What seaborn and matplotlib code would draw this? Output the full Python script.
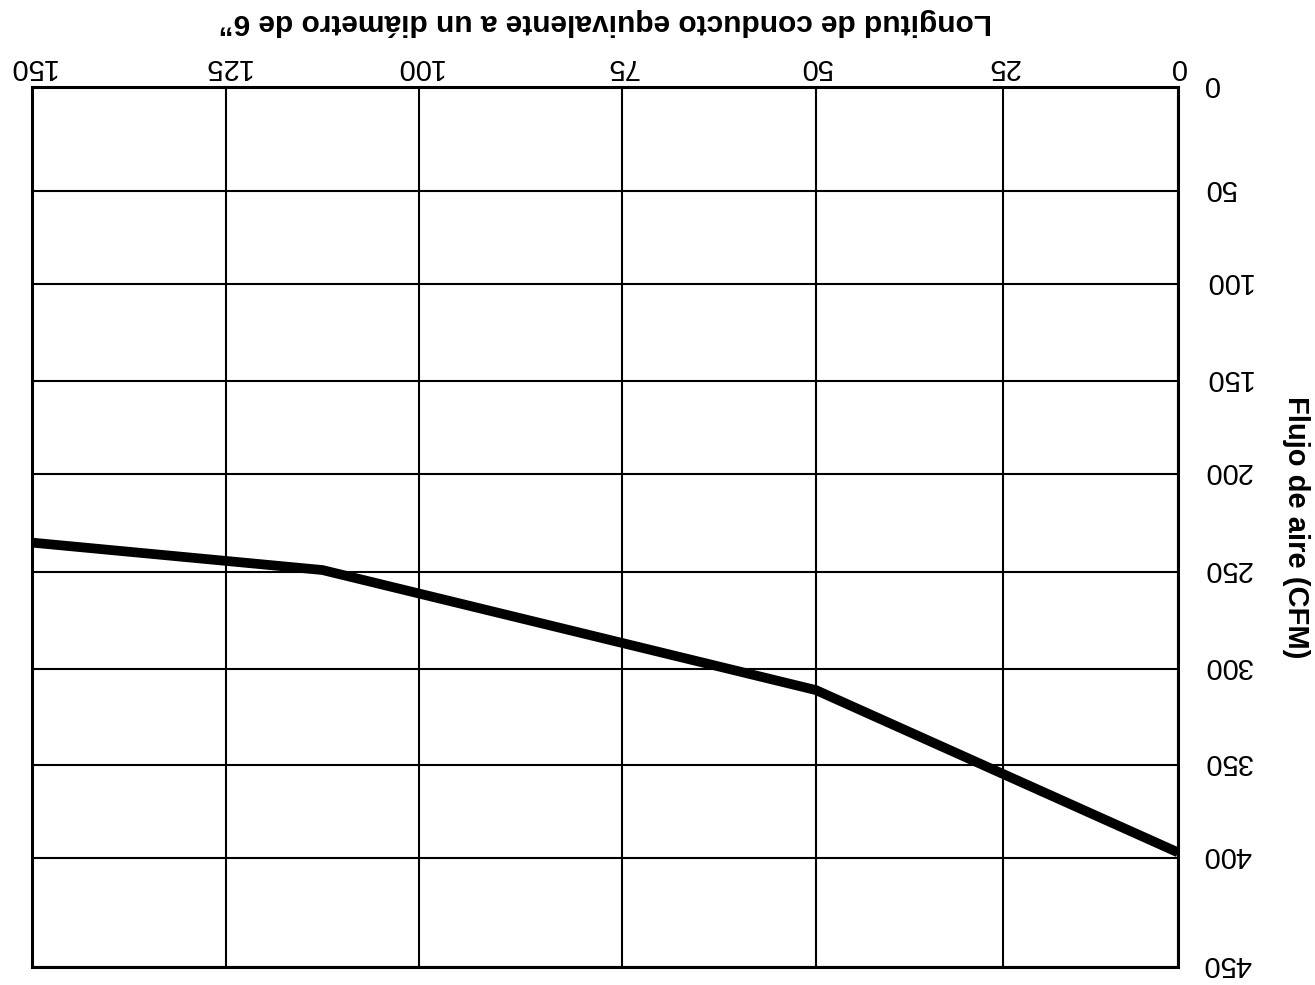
import numpy as np
import pandas as pd
import matplotlib
matplotlib.use("Agg")
import matplotlib.pyplot as plt
import seaborn as sns

# Curve data: equivalent duct length (6" diameter) vs. airflow
duct_length = [0, 50, 112.5, 150]
airflow_cfm = [397, 311, 249, 235]

x_ticks = [0, 25, 50, 75, 100, 125, 150]
y_ticks = [0, 50, 100, 150, 200, 250, 300, 350, 400, 450]

x_label = "Longitud de conducto equivalente a un diámetro de 6”"
y_label = "Flujo de aire (CFM)"

# Hand-ruled grid: relative spacing of the printed grid lines
x_grid_spacing = [0, 175, 362, 556, 759, 952, 1146]
y_grid_spacing = [0, 104, 197, 294, 387, 485, 582, 678, 771, 880]


def warp(vals, pos):
    vals = np.asarray(vals, float)
    pos = np.asarray(pos, float)
    s0 = (pos[1] - pos[0]) / (vals[1] - vals[0])
    s1 = (pos[-1] - pos[-2]) / (vals[-1] - vals[-2])

    def fwd(v):
        v = np.asarray(v, float)
        out = np.interp(v, vals, pos)
        out = np.where(v < vals[0], pos[0] + (v - vals[0]) * s0, out)
        out = np.where(v > vals[-1], pos[-1] + (v - vals[-1]) * s1, out)
        return out

    def inv(p):
        p = np.asarray(p, float)
        out = np.interp(p, pos, vals)
        out = np.where(p < pos[0], vals[0] + (p - pos[0]) / s0, out)
        out = np.where(p > pos[-1], vals[-1] + (p - pos[-1]) / s1, out)
        return out

    return fwd, inv


sns.set_theme(style="white")
plt.rcParams["font.family"] = ["Liberation Sans", "DejaVu Sans"]
plt.rcParams["text.color"] = "black"
plt.rcParams["axes.labelcolor"] = "black"

fig = plt.figure(figsize=(13.15, 9.85), dpi=100)
ax = fig.add_axes([32 / 1315, 1 - 967 / 985, (1178 - 32) / 1315, (967 - 87) / 985])

df = pd.DataFrame({"len": duct_length, "cfm": airflow_cfm})

ax.set_xscale("function", functions=warp(x_ticks, x_grid_spacing))
ax.set_yscale("function", functions=warp(y_ticks, y_grid_spacing))

sns.lineplot(data=df, x="len", y="cfm", color="black", linewidth=7,
             ax=ax, sort=False, solid_capstyle="butt", zorder=3)

ax.set_xlim(150, 0)
ax.set_ylim(450, 0)
ax.set_xticks(x_ticks)
ax.set_yticks(y_ticks)
ax.set_xticklabels([str(t) for t in x_ticks], rotation=180, fontsize=21)
ax.set_yticklabels([str(t) for t in y_ticks], rotation=180, fontsize=21,
                   rotation_mode="anchor", ha="right", va="center_baseline")

ax.xaxis.tick_top()
ax.yaxis.tick_right()
ax.tick_params(axis="x", length=0, pad=4, colors="black")
ax.tick_params(axis="y", length=0, pad=18, colors="black")

ax.grid(True, color="black", linewidth=1.5)
for sp in ax.spines.values():
    sp.set_color("black")
    sp.set_linewidth(2.2)

ax.xaxis.set_label_position("top")
ax.set_xlabel(x_label, fontsize=21.5, fontweight="bold", rotation=180,
              labelpad=17, color="black")
ax.yaxis.set_label_position("right")
ax.set_ylabel(y_label, fontsize=21, fontweight="bold", rotation=270,
              labelpad=42, color="black")

fig.savefig("out.png", dpi=100, facecolor="white")
